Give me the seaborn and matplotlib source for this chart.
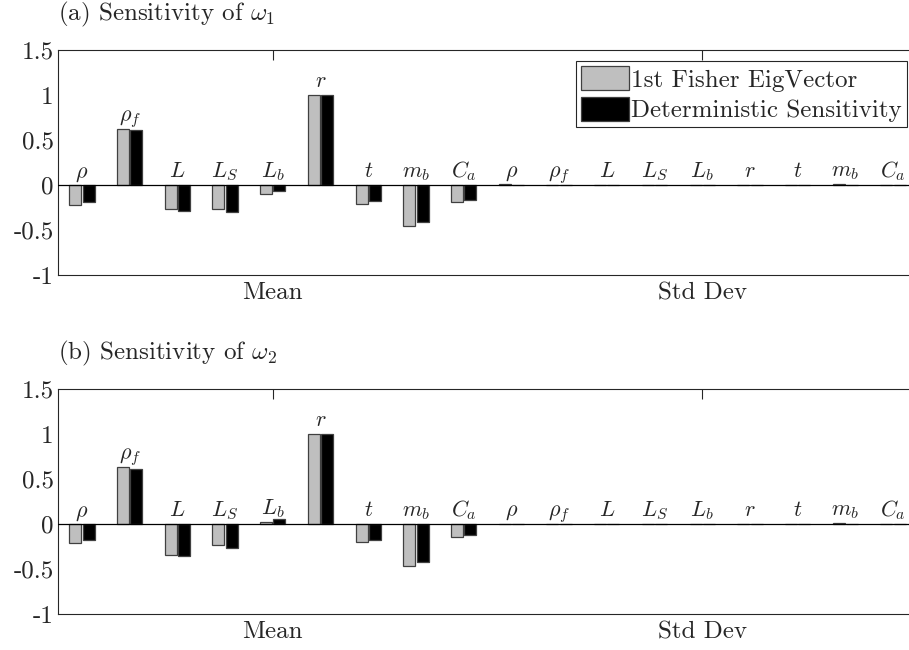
import matplotlib
matplotlib.use("Agg")
import matplotlib.pyplot as plt
import seaborn as sns
import pandas as pd
import numpy as np

# ---- data ----
param_labels = [r"$\rho$", r"$\rho_f$", r"$L$", r"$L_S$", r"$L_b$", r"$r$", r"$t$", r"$m_b$", r"$C_a$",
                r"$\rho$", r"$\rho_f$", r"$L$", r"$L_S$", r"$L_b$", r"$r$", r"$t$", r"$m_b$", r"$C_a$"]
series_names = ["1st Fisher EigVector", "Deterministic Sensitivity"]

fisher_w1 = [-0.22, 0.62, -0.27, -0.27, -0.096, 1.0, -0.21, -0.46, -0.185,
             0.01, 0.003, 0.0, 0.0, 0.0, 0.0, 0.003, 0.01, 0.0]
determ_w1 = [-0.19, 0.607, -0.285, -0.296, -0.063, 1.0, -0.178, -0.415, -0.17,
             0.0, 0.0, 0.0, 0.0, 0.0, 0.0, 0.0, 0.0, 0.0]
fisher_w2 = [-0.21, 0.633, -0.344, -0.237, 0.022, 1.0, -0.20, -0.47, -0.144,
             0.003, 0.003, 0.0, 0.0, 0.0, 0.0, 0.003, 0.01, 0.0]
determ_w2 = [-0.18, 0.607, -0.359, -0.267, 0.059, 1.0, -0.18, -0.419, -0.126,
             0.0, 0.0, 0.0, 0.0, 0.0, 0.0, 0.0, 0.0, 0.0]

group_tick_pos = [4, 13]
group_tick_labels = ["Mean", "Std Dev"]
ytick_vals = [-1, -0.5, 0, 0.5, 1, 1.5]
ytick_labels = ["-1", "-0.5", "0", "0.5", "1", "1.5"]
titles = [r"(a) Sensitivity of $\omega_1$", r"(b) Sensitivity of $\omega_2$"]

sns.set_style("white")
plt.rcParams["font.family"] = ["cmr10", "DejaVu Serif"]
plt.rcParams["mathtext.fontset"] = "cm"
plt.rcParams["axes.unicode_minus"] = False
plt.rcParams["axes.formatter.use_mathtext"] = True

fig = plt.figure(figsize=(9.09, 6.5), dpi=100)
W, H = 909.0, 650.0
ax_left = 58 / W
ax_w = (917 - 58) / W
ax_h = 225 / H
axes = [fig.add_axes([ax_left, 1 - 275 / H, ax_w, ax_h]),
        fig.add_axes([ax_left, 1 - 614 / H, ax_w, ax_h])]

palette = ["#bfbfbf", "#000000"]
spine_col = "#262626"

for i, (ax, fvals, dvals) in enumerate(zip(axes, [fisher_w1, fisher_w2], [determ_w1, determ_w2])):
    n = len(fvals)
    df = pd.DataFrame({
        "idx": list(range(n)) * 2,
        "value": list(fvals) + list(dvals),
        "series": [series_names[0]] * n + [series_names[1]] * n,
    })
    sns.barplot(data=df, x="idx", y="value", hue="series", hue_order=series_names,
                palette=palette, width=0.56, gap=0.1, edgecolor="#404040", linewidth=0.9,
                ax=ax, legend=(i == 0), saturation=1)
    ax.axhline(0, color="black", lw=0.9, zorder=3)
    ax.set_xlim(-0.5, 17.5)
    ax.set_ylim(-1, 1.5)
    ax.set_yticks(ytick_vals)
    ax.set_yticklabels(ytick_labels)
    ax.set_xticks(group_tick_pos)
    ax.set_xticklabels(group_tick_labels)
    ax.set_xlabel("")
    ax.set_ylabel("")
    ax.tick_params(axis="both", direction="in", length=7, width=0.8, color=spine_col,
                   labelsize=18, top=True, right=False, pad=5)
    ax.tick_params(axis="y", pad=3)
    for s in ax.spines.values():
        s.set_color(spine_col)
        s.set_linewidth(0.8)
        s.set_visible(True)
    for k in range(n):
        ybase = max(0.0, fvals[k]) + 0.085
        ax.text(k, ybase, param_labels[k], ha="center", va="baseline", fontsize=16)
    ax.text(0.0, 1.0 + 36 / 225, titles[i], transform=ax.transAxes, ha="left",
            va="center", fontsize=18)
    if i == 0:
        leg = ax.legend(loc="upper right", bbox_to_anchor=((907 - 58) / (917 - 58), 1 - 11 / 225),
                        frameon=True, fancybox=False, edgecolor=spine_col, framealpha=1,
                        fontsize=18, handlelength=1.9, handleheight=1.1, handletextpad=0.1,
                        borderpad=0.2, labelspacing=0.2, borderaxespad=0)
        leg.get_frame().set_linewidth(0.8)

fig.savefig("out.png", dpi=100)
